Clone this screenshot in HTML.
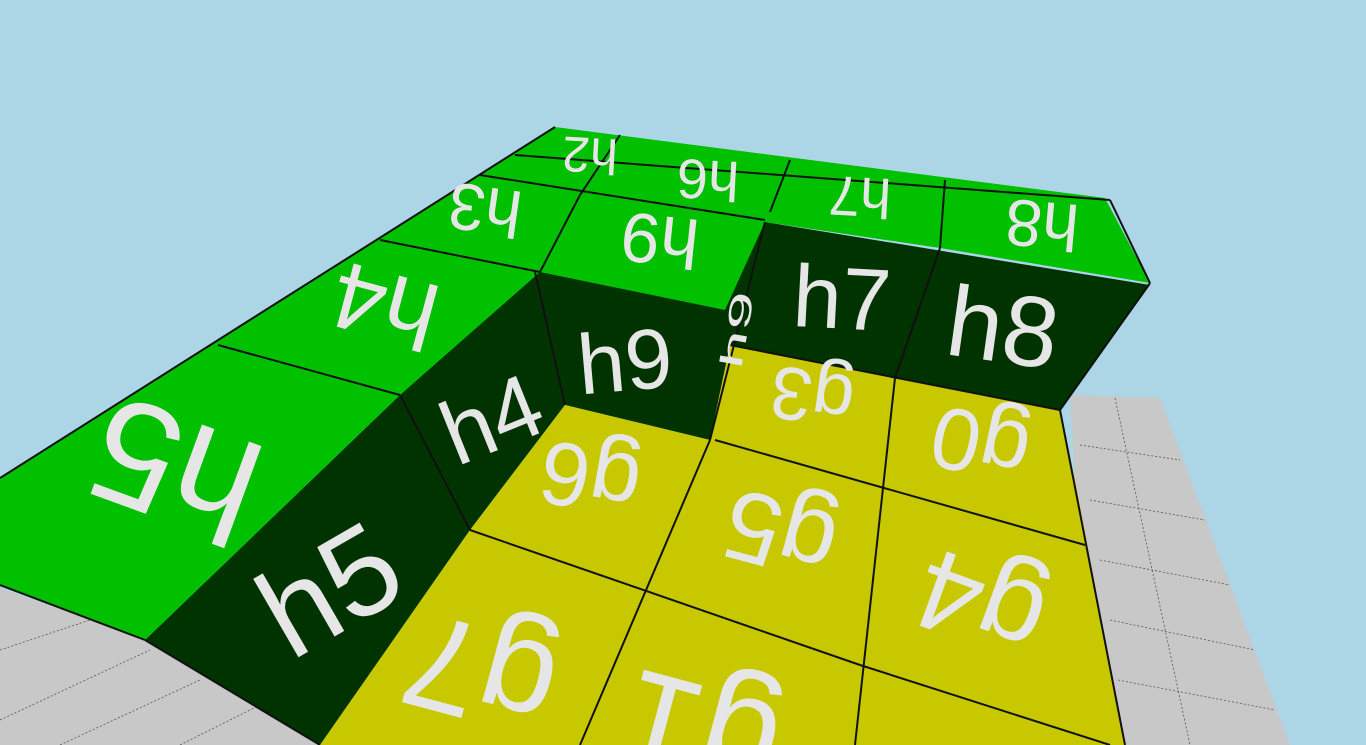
<!DOCTYPE html>
<html><head><meta charset="utf-8"><style>
html,body{margin:0;padding:0;background:#acd6e6;overflow:hidden;width:1366px;height:745px}
svg{display:block;overflow:hidden}
text{font-family:"Liberation Sans",sans-serif;fill:#e6e6e6;text-anchor:middle;dominant-baseline:central}
</style></head><body>
<svg width="1366" height="745" viewBox="0 0 1366 745">
<defs><clipPath id="frame"><rect width="1366" height="745"/></clipPath></defs>
<rect width="1366" height="745" fill="#acd6e6"/>
<g>
<polygon points="1070,395 1160,398 1290,745 1090,745" fill="#c8c8c8"/>
<g stroke="#555" stroke-width="0.8" stroke-dasharray="2,2" fill="none">
<line x1="1080" y1="445" x2="1180" y2="460"/><line x1="1090" y1="500" x2="1205" y2="520"/>
<line x1="1100" y1="560" x2="1230" y2="585"/><line x1="1110" y1="620" x2="1255" y2="650"/>
<line x1="1118" y1="680" x2="1275" y2="710"/><line x1="1115" y1="398" x2="1190" y2="745"/>
</g></g>
<g>
<polygon points="0,588 150,640 320,745 0,745" fill="#c8c8c8"/>
<g stroke="#555" stroke-width="0.8" stroke-dasharray="2,2" fill="none">
<line x1="0" y1="650" x2="120" y2="610"/><line x1="0" y1="720" x2="150" y2="650"/>
<line x1="60" y1="745" x2="200" y2="680"/><line x1="180" y1="745" x2="260" y2="705"/>
</g></g>
<polygon points="145,640 400,395 535,272 765,222 1150,285 1060,410 895,378 730,345 710,440 565,405 470,530 320,745" fill="#003300"/>
<polygon points="565,405 710,440 730,345 895,378 1060,410 1075,480 1125,745 320,745 470,530" fill="#c8c800"/>
<polygon points="0,478 555,127 1105,198 1150,283 940,248 765,222 725,310 540,272 400,395 145,640 0,585" fill="#00c000"/>
<g stroke="#111" stroke-width="2" fill="none">
<line x1="515" y1="155" x2="1110" y2="200"/><line x1="480" y1="175" x2="765" y2="220"/>
<line x1="580" y1="195" x2="540" y2="272"/>
<line x1="218" y1="345" x2="400" y2="395"/><line x1="380" y1="240" x2="540" y2="272"/>
<line x1="620" y1="135" x2="580" y2="195"/><line x1="790" y1="160" x2="770" y2="212"/>
<line x1="945" y1="180" x2="940" y2="248"/>
<line x1="1110" y1="200" x2="1150" y2="283"/><line x1="0" y1="478" x2="555" y2="127"/>
<line x1="765" y1="222" x2="710" y2="440"/><line x1="940" y1="248" x2="895" y2="378"/>
<line x1="1150" y1="283" x2="1060" y2="410"/><line x1="400" y1="395" x2="470" y2="530"/>
<line x1="145" y1="640" x2="320" y2="745"/><line x1="535" y1="272" x2="565" y2="405"/>
<line x1="470" y1="530" x2="860" y2="665"/><line x1="730" y1="345" x2="1060" y2="410"/>
<line x1="715" y1="440" x2="1085" y2="545"/><line x1="860" y1="665" x2="1110" y2="745"/>
<line x1="895" y1="378" x2="855" y2="745"/><line x1="710" y1="440" x2="580" y2="745"/>
<line x1="1060" y1="410" x2="1125" y2="745"/><line x1="0" y1="585" x2="145" y2="640"/>
</g>
<g clip-path="url(#frame)">
<text transform="translate(590,155) rotate(183)" font-size="50">h2</text>
<text transform="translate(708,180) rotate(183)" font-size="56">h6</text>
<text transform="translate(860,197) rotate(183)" font-size="56">h7</text>
<text transform="translate(1042,225) rotate(185)" font-size="66">h8</text>
<text transform="translate(485,210) rotate(188)" font-size="66">h3</text>
<text transform="translate(660,240) rotate(186)" font-size="70">h9</text>
<text transform="translate(385,305) rotate(195)" font-size="95">h4</text>
<text transform="translate(175,470) rotate(200)" font-size="150">h5</text>
<text transform="translate(330,590) rotate(-30)" font-size="125">h5</text>
<text transform="translate(492,420) rotate(-22)" font-size="90">h4</text>
<text transform="translate(625,362) rotate(-5)" font-size="85">h9</text>
<text transform="translate(737,330) rotate(-80) scale(1,0.45)" font-size="70">h9</text>
<text transform="translate(842,298) rotate(3)" font-size="88">h7</text>
<text transform="translate(1003,328) rotate(8)" font-size="100">h8</text>
<text transform="translate(812,397) rotate(188)" font-size="75">g3</text>
<text transform="translate(980,445) rotate(192)" font-size="88">g0</text>
<text transform="translate(590,478) rotate(190)" font-size="90">g6</text>
<text transform="translate(780,535) rotate(195)" font-size="100">g5</text>
<text transform="translate(980,605) rotate(200)" font-size="115">g4</text>
<text transform="translate(480,675) rotate(195)" font-size="135">g7</text>
<text transform="translate(700,735) rotate(195)" font-size="140">g1</text>
</g>
</svg>
</body></html>
